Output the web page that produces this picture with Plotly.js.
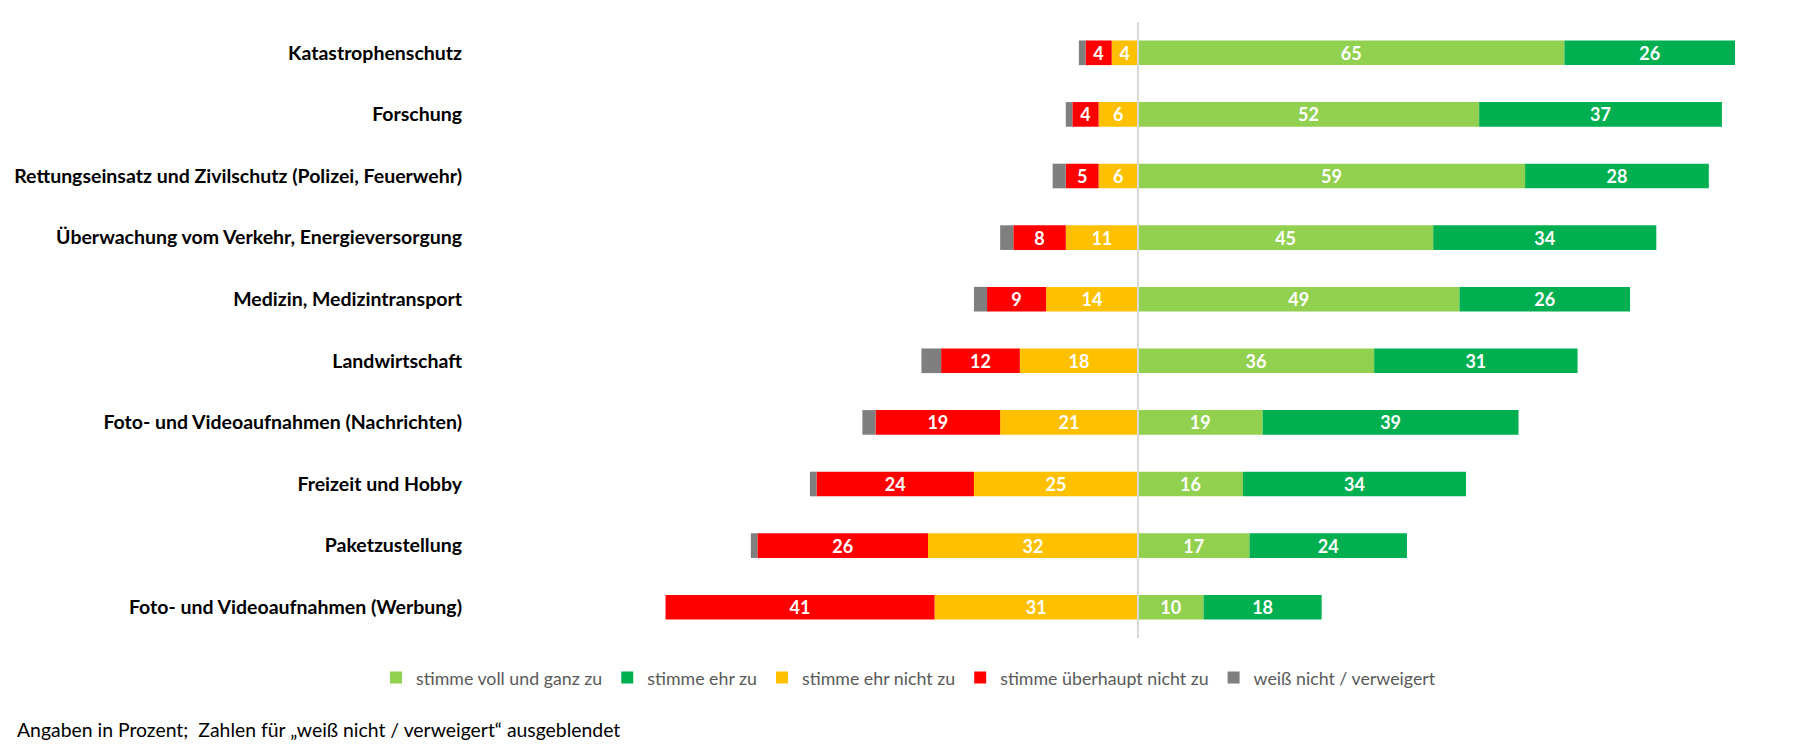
<!DOCTYPE html>
<html>
<head>
<meta charset="utf-8">
<script src="https://cdn.plot.ly/plotly-3.0.1.min.js"></script>
<style>html,body{margin:0;padding:0;background:#fff;}#chart{width:1817px;height:755px;}</style>
</head>
<body>
<div id="chart"></div>
<script>
const categories = [
  "Katastrophenschutz",
  "Forschung",
  "Rettungseinsatz und Zivilschutz (Polizei, Feuerwehr)",
  "Überwachung vom Verkehr, Energieversorgung",
  "Medizin, Medizintransport",
  "Landwirtschaft",
  "Foto- und Videoaufnahmen (Nachrichten)",
  "Freizeit und Hobby",
  "Paketzustellung",
  "Foto- und Videoaufnahmen (Werbung)"
];
const stimmeVoll      = [65, 52, 59, 45, 49, 36, 19, 16, 17, 10];
const stimmeEhr       = [26, 37, 28, 34, 26, 31, 39, 34, 24, 18];
const stimmeEhrNicht  = [4, 6, 6, 11, 14, 18, 21, 25, 32, 31];
const stimmeUeberhaupt= [4, 4, 5, 8, 9, 12, 19, 24, 26, 41];
const weissNicht      = [1, 1, 2, 2, 2, 3, 2, 1, 1, 0];

const seriesNames = ["stimme voll und ganz zu", "stimme ehr zu", "stimme ehr nicht zu", "stimme überhaupt nicht zu", "weiß nicht / verweigert"];
const colors = ["#92d050", "#00b050", "#ffc000", "#ff0000", "#7f7f7f"];

const labelFont = {family: "Lato, 'Open Sans', sans-serif", size: 18, color: "#ffffff", weight: 700};

function mk(vals, i, negative, showText) {
  return {
    type: "bar",
    orientation: "h",
    name: seriesNames[i],
    y: categories,
    x: vals.map(v => negative ? -v : v),
    text: showText ? vals.map(v => String(v)) : undefined,
    textposition: showText ? "inside" : "none",
    insidetextanchor: "middle",
    textangle: 0,
    constraintext: "none",
    textfont: labelFont,
    marker: {color: colors[i], line: {width: 0}},
    hoverinfo: "name+text"
  };
}

const data = [
  mk(stimmeVoll, 0, false, true),
  mk(stimmeEhr, 1, false, true),
  mk(stimmeEhrNicht, 2, true, true),
  mk(stimmeUeberhaupt, 3, true, true),
  mk(weissNicht, 4, true, false)
];

const layout = {
  width: 1817,
  height: 755,
  paper_bgcolor: "#ffffff",
  plot_bgcolor: "#ffffff",
  barmode: "relative",
  bargap: 0.6,
  margin: {l: 470, r: 17, t: 22, b: 117},
  font: {family: "Lato, 'Open Sans', sans-serif"},
  xaxis: {
    range: [-101.8, 100.9],
    showgrid: false,
    zeroline: false,
    showticklabels: false,
    fixedrange: true
  },
  yaxis: {
    autorange: "reversed",
    showgrid: false,
    zeroline: false,
    ticks: "",
    ticklabelstandoff: 7,
    tickfont: {family: "Lato, 'Open Sans', sans-serif", size: 19.5, color: "#000000", weight: 700},
    automargin: false
  },
  shapes: [{
    type: "line", xref: "x", yref: "paper", x0: 0, x1: 0, y0: 0, y1: 1,
    line: {color: "#d9d9d9", width: 2}, layer: "above"
  }],
  legend: {
    orientation: "h",
    xref: "container", yref: "container",
    x: 0.5, xanchor: "center",
    y: 0.102, yanchor: "middle",
    traceorder: "normal",
    font: {family: "Lato, 'Open Sans', sans-serif", size: 17.8, color: "#595959"},
    itemwidth: 30
  },
  annotations: [{
    xref: "paper", yref: "paper",
    x: -0.342, y: -0.149, xanchor: "left", yanchor: "middle",
    showarrow: false,
    text: "Angaben in Prozent;  Zahlen für „weiß nicht / verweigert“ ausgeblendet",
    font: {family: "Lato, 'Open Sans', sans-serif", size: 19.4, color: "#000000"}
  }]
};

Plotly.newPlot("chart", data, layout, {displayModeBar: false, staticPlot: true});
</script>
</body>
</html>
